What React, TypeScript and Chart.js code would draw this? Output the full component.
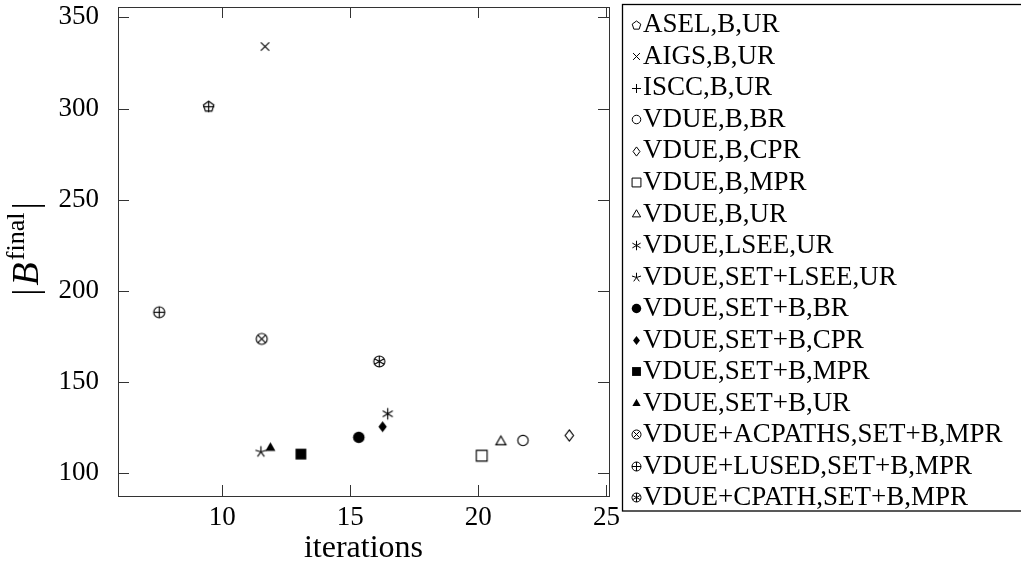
import React, { useEffect, useRef } from "react";
import { Chart, registerables } from "chart.js";

Chart.register(...registerables);

const SERIES_NAMES = [
  "ASEL,B,UR",
  "AIGS,B,UR",
  "ISCC,B,UR",
  "VDUE,B,BR",
  "VDUE,B,CPR",
  "VDUE,B,MPR",
  "VDUE,B,UR",
  "VDUE,LSEE,UR",
  "VDUE,SET+LSEE,UR",
  "VDUE,SET+B,BR",
  "VDUE,SET+B,CPR",
  "VDUE,SET+B,MPR",
  "VDUE,SET+B,UR",
  "VDUE+ACPATHS,SET+B,MPR",
  "VDUE+LUSED,SET+B,MPR",
  "VDUE+CPATH,SET+B,MPR",
];
const ITERATIONS = [9.47, 11.67, 9.47, 21.74, 23.55, 20.13, 20.88, 16.46, 11.51, 15.33, 16.26, 13.07, 11.88, 11.54, 7.54, 16.13];
const B_FINAL = [301, 334, 301, 117.9, 120.6, 109.5, 117.1, 132.5, 111.6, 119.6, 125.4, 110.4, 113.8, 173.6, 188.2, 161.2];
const MARKERS = [
  "pentagon",
  "times",
  "plus",
  "circle",
  "diamond",
  "square",
  "triangle",
  "asterisk",
  "star",
  "circleFilled",
  "diamondFilled",
  "squareFilled",
  "triangleFilled",
  "otimes",
  "oplus",
  "oast",
];
const X_TICKS = [10, 15, 20, 25];
const Y_TICKS = [100, 150, 200, 250, 300, 350];
const X_LABEL = "iterations";

const FONT = '"Liberation Serif", "Times New Roman", serif';

function makeMarker(kind: string, s: number, lw: number): HTMLCanvasElement {
  const size = Math.ceil(16 * s) + 5;
  const c = document.createElement("canvas");
  c.width = size;
  c.height = size;
  const ctx = c.getContext("2d")!;
  const cx = size / 2;
  const cy = size / 2;
  ctx.strokeStyle = "#000";
  ctx.fillStyle = "#000";
  ctx.lineWidth = lw;
  ctx.lineJoin = "miter";
  const r = 5.5 * s;
  const line = (x1: number, y1: number, x2: number, y2: number) => {
    ctx.beginPath();
    ctx.moveTo(x1, y1);
    ctx.lineTo(x2, y2);
    ctx.stroke();
  };
  const arms = (n: number, rad: number, start: number) => {
    for (let k = 0; k < n; k++) {
      const a = start + (k * 2 * Math.PI) / n;
      line(cx, cy, cx + rad * Math.cos(a), cy + rad * Math.sin(a));
    }
  };
  const circle = (fill: boolean, rad: number) => {
    ctx.beginPath();
    ctx.arc(cx, cy, rad, 0, Math.PI * 2);
    if (fill) ctx.fill();
    else ctx.stroke();
  };
  const poly = (pts: number[][], fill: boolean) => {
    ctx.beginPath();
    pts.forEach((p, i) => (i ? ctx.lineTo(p[0], p[1]) : ctx.moveTo(p[0], p[1])));
    ctx.closePath();
    if (fill) ctx.fill();
    else ctx.stroke();
  };
  switch (kind) {
    case "pentagon": {
      const pts: number[][] = [];
      for (let k = 0; k < 5; k++) {
        const a = -Math.PI / 2 + (k * 2 * Math.PI) / 5;
        pts.push([cx + r * Math.cos(a), cy + r * Math.sin(a)]);
      }
      poly(pts, false);
      break;
    }
    case "times": {
      const d = 4.2 * s;
      line(cx - d, cy - d, cx + d, cy + d);
      line(cx - d, cy + d, cx + d, cy - d);
      break;
    }
    case "plus": {
      const d = 5.5 * s;
      line(cx - d, cy, cx + d, cy);
      line(cx, cy - d, cx, cy + d);
      break;
    }
    case "circle":
      circle(false, 5.2 * s);
      break;
    case "circleFilled":
      circle(true, 5.8 * s);
      break;
    case "diamond":
    case "diamondFilled": {
      const hw = 4.2 * s;
      const hh = 5.6 * s;
      poly(
        [
          [cx, cy - hh],
          [cx + hw, cy],
          [cx, cy + hh],
          [cx - hw, cy],
        ],
        kind === "diamondFilled"
      );
      break;
    }
    case "square":
    case "squareFilled": {
      const h = 5.4 * s;
      poly(
        [
          [cx - h, cy - h],
          [cx + h, cy - h],
          [cx + h, cy + h],
          [cx - h, cy + h],
        ],
        kind === "squareFilled"
      );
      break;
    }
    case "triangle":
    case "triangleFilled": {
      const rr = 5.8 * s;
      const pts: number[][] = [];
      for (let k = 0; k < 3; k++) {
        const a = -Math.PI / 2 + (k * 2 * Math.PI) / 3;
        pts.push([cx + rr * Math.cos(a), cy + rr * Math.sin(a)]);
      }
      poly(pts, kind === "triangleFilled");
      break;
    }
    case "asterisk":
      arms(6, 5.8 * s, -Math.PI / 2);
      break;
    case "star":
      arms(5, 5.8 * s, -Math.PI / 2);
      break;
    case "otimes": {
      circle(false, r);
      const d = r * Math.SQRT1_2;
      line(cx - d, cy - d, cx + d, cy + d);
      line(cx - d, cy + d, cx + d, cy - d);
      break;
    }
    case "oplus":
      circle(false, r);
      line(cx - r, cy, cx + r, cy);
      line(cx, cy - r, cx, cy + r);
      break;
    case "oast":
      circle(false, r);
      arms(6, r, -Math.PI / 2);
      break;
  }
  return c;
}

export default function App() {
  const ref = useRef<HTMLCanvasElement | null>(null);

  useEffect(() => {
    const canvas = ref.current;
    if (!canvas) return;
    const plotMarkers = MARKERS.map((m) => makeMarker(m, 1, 1.15));
    const legendMarkers = MARKERS.map((m) => makeMarker(m, 0.82, 1));

    const datasets = SERIES_NAMES.map((name, i) => ({
      label: name,
      data: [{ x: ITERATIONS[i], y: B_FINAL[i] }],
      pointStyle: plotMarkers[i] as any,
      pointRadius: 6,
      backgroundColor: "#000",
      borderColor: "#000",
      showLine: false,
    }));

    const decor = {
      id: "decor",
      afterDraw(chart: any) {
        const ctx = chart.ctx as CanvasRenderingContext2D;
        const { left, right, top, bottom } = chart.chartArea;
        const xs = chart.scales.x;
        const ys = chart.scales.y;
        ctx.save();
        // frame
        ctx.strokeStyle = "#333";
        ctx.lineWidth = 1;
        ctx.strokeRect(Math.round(left) + 0.5, Math.round(top) + 0.5, Math.round(right - left), Math.round(bottom - top));
        const tl = 11;
        ctx.beginPath();
        X_TICKS.forEach((v) => {
          const px = Math.round(xs.getPixelForValue(v)) + 0.5;
          ctx.moveTo(px, bottom);
          ctx.lineTo(px, bottom - tl);
          ctx.moveTo(px, top);
          ctx.lineTo(px, top + tl);
        });
        Y_TICKS.forEach((v) => {
          const py = Math.round(ys.getPixelForValue(v)) + 0.5;
          ctx.moveTo(left, py);
          ctx.lineTo(left + tl, py);
          ctx.moveTo(right, py);
          ctx.lineTo(right - tl, py);
        });
        ctx.stroke();

        // y title |B^final|
        ctx.fillStyle = "#000";
        ctx.textBaseline = "alphabetic";
        ctx.textAlign = "left";
        const fBar = `36px ${FONT}`;
        const fIt = `italic 38px ${FONT}`;
        const fSm = `26px ${FONT}`;
        ctx.font = fBar;
        const wBar = ctx.measureText("|").width;
        ctx.font = fIt;
        const wB = ctx.measureText("B").width;
        ctx.font = fSm;
        const wF = ctx.measureText("final").width;
        const g = 3;
        const total = wBar + g + wB + 2 + wF + g + wBar;
        ctx.translate(38, 249);
        ctx.rotate(-Math.PI / 2);
        let x = -total / 2;
        ctx.font = fBar;
        ctx.fillText("|", x, -1);
        x += wBar + g;
        ctx.font = fIt;
        ctx.fillText("B", x, 0);
        x += wB + 2;
        ctx.font = fSm;
        ctx.fillText("final", x, -14);
        x += wF + g;
        ctx.font = fBar;
        ctx.fillText("|", x, -1);
        ctx.setTransform(1, 0, 0, 1, 0, 0);

        // legend
        ctx.strokeStyle = "#000";
        ctx.lineWidth = 1.3;
        ctx.strokeRect(622.5, 4.5, 500, 506.5);
        ctx.font = `27px ${FONT}`;
        ctx.textBaseline = "alphabetic";
        ctx.textAlign = "left";
        chart.data.datasets.forEach((ds: any, i: number) => {
          const cyCap = 23.5 + i * 31.52;
          const img = legendMarkers[i];
          ctx.drawImage(img, Math.round(636.5 - img.width / 2), Math.round(cyCap + 1.5 - img.height / 2));
          ctx.fillText(ds.label, 643, cyCap + 8.9);
        });
        ctx.restore();
      },
    };

    const chart = new Chart(canvas, {
      type: "scatter",
      data: { datasets: datasets as any },
      options: {
        animation: false,
        responsive: false,
        devicePixelRatio: 1,
        events: [],
        layout: { padding: { left: 0, top: 5, right: 412, bottom: 0 } },
        plugins: { legend: { display: false }, tooltip: { enabled: false } },
        scales: {
          x: {
            type: "linear",
            min: 5.93,
            max: 25.1,
            grid: { display: false },
            border: { display: false },
            afterBuildTicks: (s: any) => {
              s.ticks = X_TICKS.map((v) => ({ value: v }));
            },
            afterFit: (s: any) => {
              s.height = 76;
              s.paddingLeft = 0;
              s.paddingRight = 0;
            },
            ticks: {
              font: { family: FONT, size: 27 },
              color: "#000",
              padding: -2,
              maxRotation: 0,
              autoSkip: false,
            },
            title: {
              display: true,
              text: X_LABEL,
              font: { family: FONT, size: 32 },
              color: "#000",
              padding: { top: 0, bottom: 4 },
            },
          },
          y: {
            type: "linear",
            min: 87.4,
            max: 355.7,
            grid: { display: false },
            border: { display: false },
            afterBuildTicks: (s: any) => {
              s.ticks = Y_TICKS.map((v) => ({ value: v }));
            },
            afterFit: (s: any) => {
              s.width = 118;
              s.paddingTop = 0;
              s.paddingBottom = 0;
            },
            ticks: {
              font: { family: FONT, size: 27 },
              color: "#000",
              padding: 11,
              autoSkip: false,
            },
          },
        },
      },
      plugins: [decor],
    });
    return () => chart.destroy();
  }, []);

  return (
    <div style={{ position: "absolute", left: 0, top: 0, width: 1021, height: 572, overflow: "hidden", background: "#fff" }}>
      <canvas ref={ref} width={1021} height={572} style={{ display: "block" }} />
    </div>
  );
}
